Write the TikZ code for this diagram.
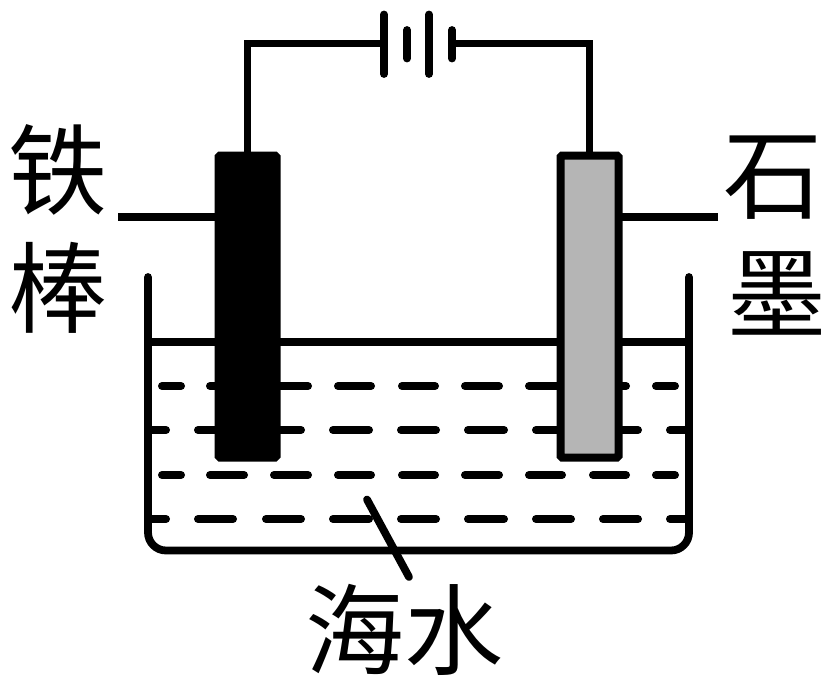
\documentclass[tikz,border=0pt]{standalone}
\usepackage{fontspec}
\newfontfamily\cjk{Noto Sans CJK SC}
\definecolor{graphitegray}{HTML}{B5B5B5}
\tikzset{
  x=1pt,y=-1pt,
  wire/.style={line width=7.8pt,line cap=round,line join=round,black},
  dashline/.style={line width=8pt,line cap=round,black},
  rod/.style={draw=black,line width=8pt,rounded corners=1.5pt,minimum width=58pt,minimum height=302pt,inner sep=0pt,outer sep=0pt,anchor=center},
  label/.style={font=\cjk\fontsize{99}{99}\selectfont,inner sep=0pt,outer sep=0pt,anchor=center,text=black}
}
\begin{document}
\begin{tikzpicture}
\useasboundingbox (0,0) rectangle (830,685);
\fill[white] (0,0) rectangle (830,685);
% beaker
\coordinate (bl) at (148,277);
\coordinate (br) at (689,277);
\draw[wire,rounded corners=18pt] (bl) -- (148,550.5) -- (689,550.5) -- (br);
\coordinate (wl) at (148,342);
\coordinate (wr) at (689,342);
\draw[wire] (wl) -- (wr);
% water dashes
\foreach \y in {386,475}{
  \foreach \a/\b in {162/181,210/244,274/308,338/371,402/435,465/499,529/562,593/626,656/675}{
    \draw[dashline] (\a,\y) -- (\b,\y);
  }
}
\foreach \y in {430,519}{
  \foreach \a/\b in {150/166,198/233,266/301,333/369,401/436,468/504,536/571,603/638,670/686}{
    \draw[dashline] (\a,\y) -- (\b,\y);
  }
}
% rods
\node[rod,fill=black] (iron) at (247.5,306.5) {};
\node[rod,fill=graphitegray] (graphite) at (589.5,306.5) {};
% battery
\coordinate (p1t) at (384,14.5);
\coordinate (p1b) at (384,74);
\coordinate (p1m) at (384,43.5);
\coordinate (p2t) at (407,30);
\coordinate (p2b) at (407,58.5);
\coordinate (p3t) at (429,14.5);
\coordinate (p3b) at (429,74);
\coordinate (p4t) at (452,30);
\coordinate (p4b) at (452,58.5);
\coordinate (p4m) at (452,43.5);
\draw[wire] (p1t) -- (p1b);
\draw[wire] (p2t) -- (p2b);
\draw[wire] (p3t) -- (p3b);
\draw[wire] (p4t) -- (p4b);
\draw[wire,line cap=butt,miter limit=10,line join=miter] (p1m) -| (iron.north);
\draw[wire,line cap=butt,miter limit=10,line join=miter] (p4m) -| (graphite.north);
% leader lines
\coordinate (ironlead) at (118,217);
\coordinate (graphlead) at (718,217);
\draw[wire,line cap=butt] (ironlead) -- (iron.west |- ironlead);
\draw[wire,line cap=butt] (graphlead) -- (graphite.east |- graphlead);
\coordinate (seatop) at (367,499.5);
\coordinate (seabot) at (409,577);
\draw[wire] (seatop) -- (seabot);
% labels
\node[label] (t1) at (58,170) {\cjk 铁};
\node[label] (t2) at (58,288) {\cjk 棒};
\node[label] (t3) at (773,178) {\cjk 石};
\node[label] (t4) at (777,293) {\cjk 墨};
\node[label] (t5) at (404,630) {\cjk 海水};
\end{tikzpicture}
\end{document}
